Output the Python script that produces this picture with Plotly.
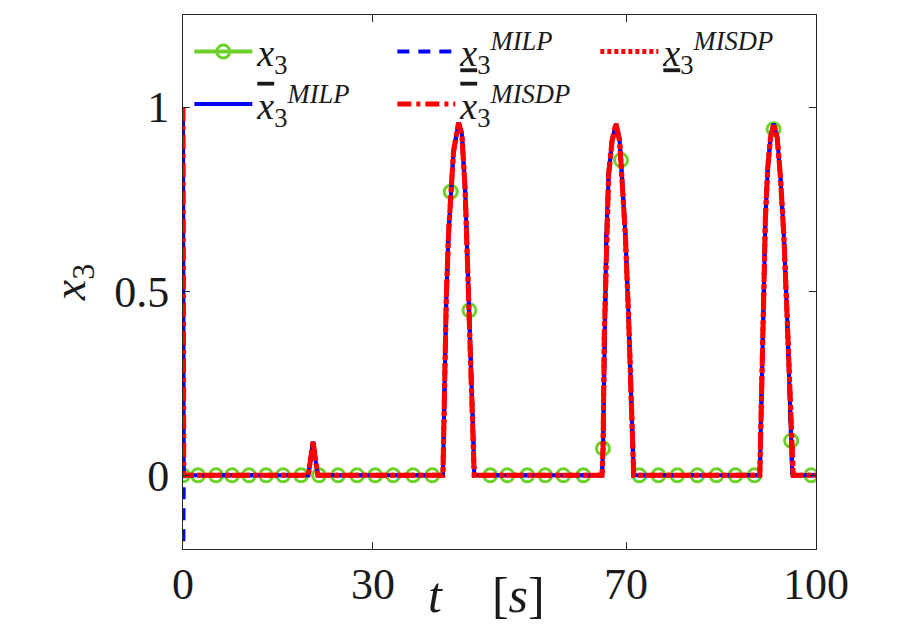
import plotly.graph_objects as go

# ---------------- data ----------------
# sampled state x3 (green markers)
marker_t = [0, 2.37, 5.22, 7.75, 10.43, 13.12, 15.81, 18.66, 21.5, 24.5, 27.5,
            30.36, 33.2, 36.36, 39.37, 42.3, 45.25, 48.54, 51.23, 54.39, 57.23,
            60.08, 63.24, 66.35, 69.2, 72.09, 75.1, 78.1, 81.26, 84.27, 87.27,
            90.28, 93.3, 96.08, 99.24]
marker_x3 = [0, 0, 0, 0, 0, 0, 0, 0, 0, 0, 0,
             0, 0, 0, 0, 0.77, 0.448, 0, 0, 0, 0,
             0, 0, 0.073, 0.856, 0, 0, 0, 0, 0, 0,
             0, 0.94, 0.094, 0]

# bound trajectories (after the initial sample)
line_t = [0.12, 19.8, 20.1, 20.55, 20.95, 21.3,
          41.06, 41.26, 41.58, 41.94, 42.32, 42.74, 43.53, 44.06, 44.58, 45.01,
          45.27, 45.53, 45.85, 46.01,
          66.2, 66.36, 66.56, 66.88, 67.24, 67.78, 68.41, 68.98, 69.36, 69.88,
          70.4, 70.78, 71.1, 71.2,
          91.12, 91.34, 91.65, 92.01, 92.38, 92.81, 93.33, 93.87, 94.39, 94.91,
          95.45, 95.86, 96.24, 96.4, 100]
line_v = [0, 0, 0.04, 0.092, 0.04, 0,
          0, 0.20, 0.47, 0.654, 0.772, 0.88, 0.957, 0.926, 0.772, 0.563,
          0.448, 0.292, 0.11, 0,
          0, 0.074, 0.382, 0.654, 0.817, 0.908, 0.955, 0.908, 0.808, 0.654,
          0.427, 0.2, 0.018, 0,
          0, 0.2, 0.473, 0.70, 0.835, 0.917, 0.955, 0.917, 0.808, 0.654,
          0.427, 0.2, 0.005, 0, 0]

start_upper_milp = 1.0
start_lower_milp = -0.35
start_upper_misdp = 1.0
start_lower_misdp = 0.0

x_ticks = [0, 30, 70, 100]
y_ticks = [0, 0.5, 1]

# ---------------- styling ----------------
FONT = "Liberation Serif"
GREEN = "#6DD12A"
BLUE = "#0000FF"
RED = "#FF0000"
TXT = "#1a1a1a"
LW = 4

t_full = [0] + line_t

fig = go.Figure()

mk = dict(symbol="circle-open", size=13, color=GREEN, line=dict(width=3, color=GREEN))

# legend-only entry for x3 (line + marker)
fig.add_trace(go.Scatter(
    x=[None], y=[None], mode="lines+markers", name="<i>x</i><sub>3</sub>",
    line=dict(color=GREEN, width=LW), marker=mk, legendrank=1))
fig.add_trace(go.Scatter(
    x=marker_t, y=marker_x3, mode="markers", showlegend=False, marker=mk))

fig.add_trace(go.Scatter(
    x=t_full, y=[start_upper_milp] + line_v, mode="lines",
    name='<span style="text-decoration:overline"><i>x</i></span><sub>3</sub><sup><i>MILP</i></sup>',
    line=dict(color=BLUE, width=LW), legendrank=4))
fig.add_trace(go.Scatter(
    x=t_full, y=[start_lower_milp] + line_v, mode="lines",
    name="<u><i>x</i></u><sub>3</sub><sup><i>MILP</i></sup>",
    line=dict(color=BLUE, width=LW, dash="12px,9px"), legendrank=2))
fig.add_trace(go.Scatter(
    x=t_full, y=[start_upper_misdp] + line_v, mode="lines",
    name='<span style="text-decoration:overline"><i>x</i></span><sub>3</sub><sup><i>MISDP</i></sup>',
    line=dict(color=RED, width=LW + 1, dash="14px,5px,4px,5px"), legendrank=5))
fig.add_trace(go.Scatter(
    x=t_full, y=[start_lower_misdp] + line_v, mode="lines",
    name="<u><i>x</i></u><sub>3</sub><sup><i>MISDP</i></sup>",
    line=dict(color=RED, width=LW + 1, dash="4px,3px"), legendrank=3))

axis_common = dict(
    showline=True, linecolor="#262626", linewidth=1, mirror="ticks",
    ticks="inside", ticklen=7, tickcolor="#262626", tickwidth=1,
    showgrid=False, zeroline=False,
    tickfont=dict(family=FONT, size=44, color=TXT),
)

fig.update_xaxes(range=[0, 100], tickvals=x_ticks, ticktext=[str(v) for v in x_ticks],
                 ticklabelstandoff=-4, **axis_common)
fig.update_yaxes(range=[-0.2, 1.25], tickvals=y_ticks, ticktext=["0", "0.5", "1"],
                 ticklabelstandoff=4,
                 title=dict(text="<i>x</i><sub>3</sub>", font=dict(family=FONT, size=46, color=TXT),
                            standoff=14),
                 **axis_common)

fig.add_annotation(text="<i>t</i>\u2003[<i>s</i>]", xref="paper", yref="paper",
                   x=0.48, y=-0.03, xanchor="center", yanchor="top", showarrow=False,
                   font=dict(family=FONT, size=50, color=TXT))

# page body has an 8px margin: figure coordinates = page coordinates - 8
fig.update_layout(
    width=915, height=632,
    margin=dict(l=175, r=107, t=7, b=91),
    paper_bgcolor="white", plot_bgcolor="white",
    showlegend=True,
    legend=dict(orientation="h", x=0.01, y=0.99, xanchor="left", yanchor="top",
                bgcolor="rgba(255,255,255,0)", borderwidth=0,
                font=dict(family=FONT, size=38, color=TXT),
                itemwidth=58, entrywidth=130, tracegroupgap=0,
                traceorder="normal"),
)

fig.write_html("out.html")
